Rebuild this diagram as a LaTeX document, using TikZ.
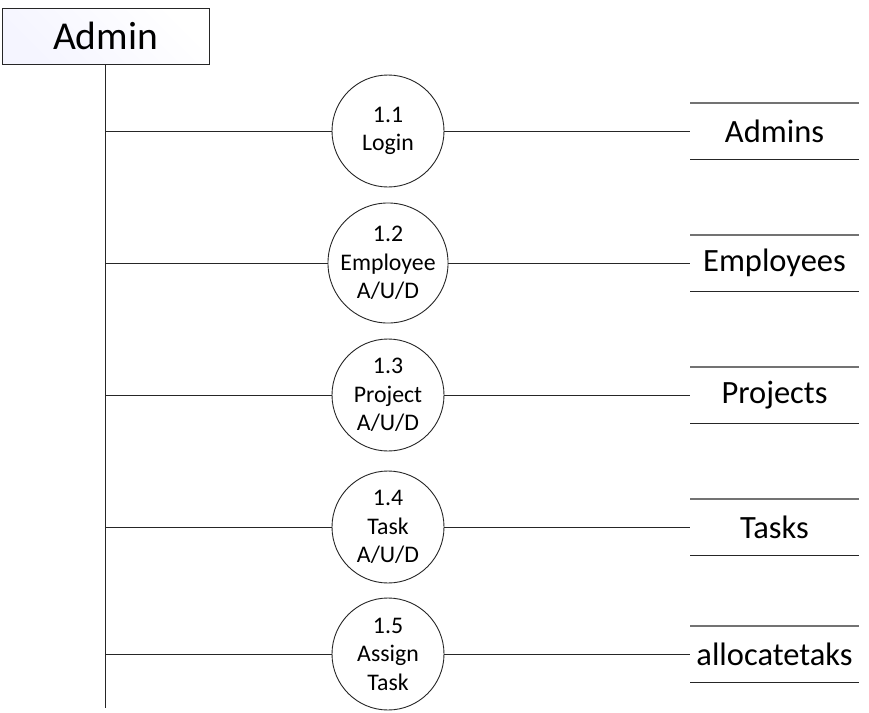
\documentclass[tikz,border=0pt]{standalone}
\usepackage{fontspec}
\setmainfont{Carlito}
\begin{document}
\begin{tikzpicture}[x=1pt,y=-1pt,
  line/.style={draw=black!85, line width=0.9pt},
  ext/.style={draw=black!85, line width=0.9pt, minimum width=207pt, minimum height=56pt, inner sep=0pt,
    font=\fontsize{39.5}{46}\selectfont,
    top color=blue!4, bottom color=white, shading angle=135},
  proc/.style={circle, draw=black!85, line width=0.9pt, minimum size=112pt, inner sep=0pt, align=center,
    font=\fontsize{23.8}{28.5}\selectfont, fill=white},
  storetxt/.style={font=\fontsize{32.5}{38}\selectfont, inner sep=0pt, anchor=center}
]
\useasboundingbox (0,0) rectangle (869,712);
\node[ext] (admin) at (105.5,36) {Admin};
\coordinate (bot) at (105,708);
\draw[line] (admin.south -| bot) -- (bot);

\foreach \i/\y/\t/\s in {1/131/{1.1\\Login}/Admins,
                          2/263/{1.2\\Employee\\A/U/D}/Employees,
                          3/395/{1.3\\Project\\A/U/D}/Projects,
                          4/527/{1.4\\Task\\A/U/D}/Tasks,
                          5/654/{1.5\\Assign\\Task}/allocatetaks}{
  \node[proc] (p\i) at (388,\y) {\t};
  \coordinate (b\i) at (105,\y);
  \coordinate (sl\i) at (690,\y);
  \coordinate (st\i) at (690,\y-28);
  \coordinate (sb\i) at (690,\y+28);
  \coordinate (et\i) at (859,\y-28);
  \coordinate (eb\i) at (859,\y+28);
  \node[storetxt] (s\i) at (774.5,\y) {\s};
  \draw[line] (b\i) -- (p\i.west);
  \draw[line] (p\i.east) -- (sl\i);
  \draw[draw=black!55, line width=1.1pt] (st\i) -- (et\i);
  \draw[line] (sb\i) -- (eb\i);
}
\end{tikzpicture}
\end{document}
